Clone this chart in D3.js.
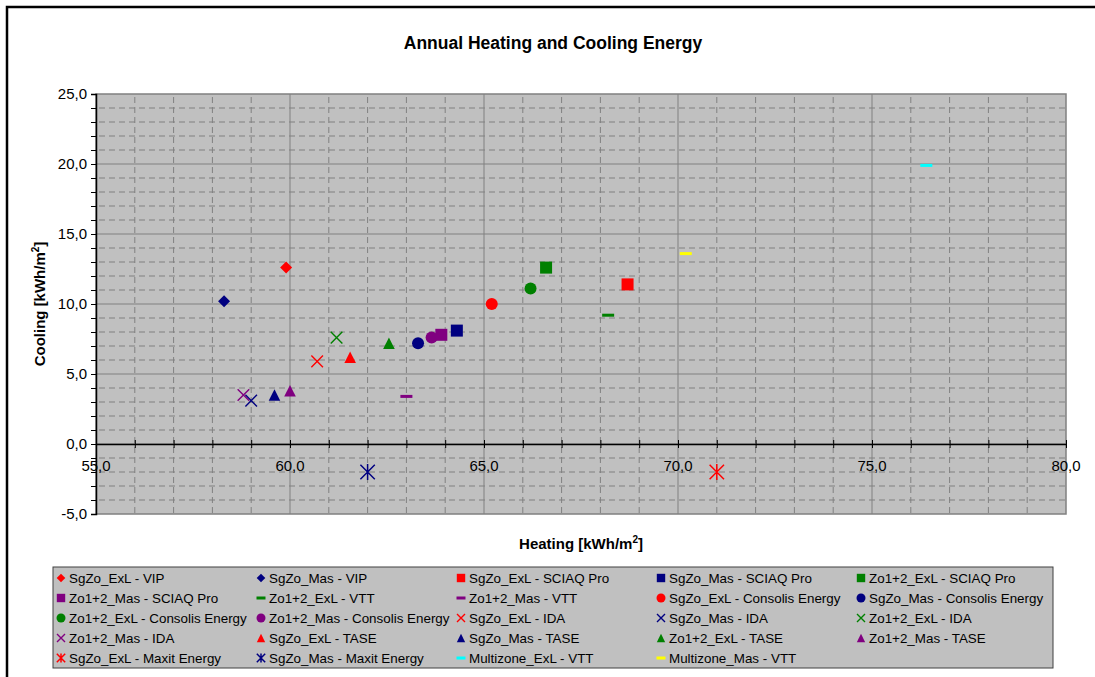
<!DOCTYPE html>
<html>
<head>
<meta charset="utf-8">
<script src="https://cdn.jsdelivr.net/npm/d3@7"></script>
<style>
  body { margin: 0; background: #fff; }
  svg { display: block; font-family: "Liberation Sans", Arial, sans-serif; }
</style>
</head>
<body>
<div id="chart"></div>
<script>
// series, in legend order
const seriesNames = [
  "SgZo_ExL - VIP", "SgZo_Mas - VIP", "SgZo_ExL - SCIAQ Pro", "SgZo_Mas - SCIAQ Pro", "Zo1+2_ExL - SCIAQ Pro",
  "Zo1+2_Mas - SCIAQ Pro", "Zo1+2_ExL - VTT", "Zo1+2_Mas - VTT", "SgZo_ExL - Consolis Energy", "SgZo_Mas - Consolis Energy",
  "Zo1+2_ExL - Consolis Energy", "Zo1+2_Mas - Consolis Energy", "SgZo_ExL - IDA", "SgZo_Mas - IDA", "Zo1+2_ExL - IDA",
  "Zo1+2_Mas - IDA", "SgZo_ExL - TASE", "SgZo_Mas - TASE", "Zo1+2_ExL - TASE", "Zo1+2_Mas - TASE",
  "SgZo_ExL - Maxit Energy", "SgZo_Mas - Maxit Energy", "Multizone_ExL - VTT", "Multizone_Mas - VTT"
];
const heating = [59.9, 58.3, 68.7, 64.3, 66.6, 63.9, 68.2, 63.0, 65.2, 63.3, 66.2, 63.65, 60.7, 59.0, 61.2, 58.8, 61.55, 59.6, 62.55, 60.0, 71.0, 62.0, 76.4, 70.2];
const cooling = [12.6, 10.2, 11.4, 8.1, 12.6, 7.8, 9.2, 3.4, 10.0, 7.2, 11.1, 7.6, 5.9, 3.1, 7.6, 3.5, 6.2, 3.5, 7.2, 3.8, -2.0, -2.0, 19.9, 13.6];

// marker style per series
const colors = ["#ff0000", "#000080", "#ff0000", "#000080", "#008000", "#800080", "#008000", "#800080", "#ff0000", "#000080",
  "#008000", "#800080", "#ff0000", "#000080", "#008000", "#800080", "#ff0000", "#000080", "#008000", "#800080",
  "#ff0000", "#000080", "#00ffff", "#ffff00"];
const shapes = ["diamond", "diamond", "square", "square", "square", "square", "dash", "dash", "circle", "circle",
  "circle", "circle", "x", "x", "x", "x", "triangle", "triangle", "triangle", "triangle",
  "star", "star", "dash", "dash"];

const xTicks = [55, 60, 65, 70, 75, 80];
const yTicks = [-5, 0, 5, 10, 15, 20, 25];

const width = 1095, height = 677;
const plot = { left: 96, top: 94, right: 1066, bottom: 514 };

const svg = d3.select("#chart").append("svg")
  .attr("width", width)
  .attr("height", height);

// outer chart frame
svg.append("rect")
  .attr("x", 7).attr("y", 7)
  .attr("width", 1100).attr("height", 700)
  .attr("fill", "#fff")
  .attr("stroke", "#000")
  .attr("stroke-width", 2.5);

const x = d3.scaleLinear().domain([55, 80]).range([plot.left, plot.right]);
const y = d3.scaleLinear().domain([-5, 25]).range([plot.bottom, plot.top]);

// "25,0" style labels with a plain hyphen for negatives
const fmt = v => v.toFixed(1).replace(".", ",");

// plot background
svg.append("rect")
  .attr("x", plot.left).attr("y", plot.top)
  .attr("width", plot.right - plot.left).attr("height", plot.bottom - plot.top)
  .attr("fill", "#c0c0c0");

// minor grid (every 1 unit), dashed
const minorX = d3.range(56, 80).filter(v => v % 5 !== 0);
const minorY = d3.range(-4, 25).filter(v => v % 5 !== 0);
const grid = svg.append("g");
grid.selectAll(".mx").data(minorX).enter().append("line")
  .attr("x1", d => x(d)).attr("x2", d => x(d))
  .attr("y1", plot.top).attr("y2", plot.bottom)
  .attr("stroke", "#808080").attr("stroke-dasharray", "6,4").attr("stroke-dashoffset", -3);
grid.selectAll(".my").data(minorY).enter().append("line")
  .attr("x1", plot.left).attr("x2", plot.right)
  .attr("y1", d => y(d)).attr("y2", d => y(d))
  .attr("stroke", "#808080").attr("stroke-dasharray", "6,4").attr("stroke-dashoffset", -3);

// major grid, solid
grid.selectAll(".Mx").data(xTicks.slice(1, -1)).enter().append("line")
  .attr("x1", d => x(d)).attr("x2", d => x(d))
  .attr("y1", plot.top).attr("y2", plot.bottom)
  .attr("stroke", "#808080");
grid.selectAll(".My").data(yTicks.slice(1, -1)).enter().append("line")
  .attr("x1", plot.left).attr("x2", plot.right)
  .attr("y1", d => y(d)).attr("y2", d => y(d))
  .attr("stroke", "#808080");

// plot border
svg.append("rect")
  .attr("x", plot.left).attr("y", plot.top)
  .attr("width", plot.right - plot.left).attr("height", plot.bottom - plot.top)
  .attr("fill", "none").attr("stroke", "#808080").attr("stroke-width", 1.5);

// y axis
const yAxis = svg.append("g").attr("transform", `translate(${plot.left},0)`)
  .call(d3.axisLeft(y).tickValues(d3.range(-5, 26)).tickSize(5).tickFormat(""));
yAxis.select(".domain").attr("stroke", "#000").attr("stroke-width", 1.5);
yAxis.selectAll(".tick line").attr("stroke", "#000");
svg.append("g").selectAll("text").data(yTicks).enter().append("text")
  .attr("x", 87).attr("y", d => y(d)).attr("dy", "0.35em")
  .attr("text-anchor", "end")
  .attr("font-size", 15)
  .text(fmt);

// x axis at y = 0, ticks crossing the line
const xAxis = svg.append("g").attr("transform", `translate(0,${y(0)})`)
  .call(d3.axisBottom(x).tickValues(d3.range(55, 81)).tickSizeInner(4).tickSizeOuter(0).tickFormat(""));
xAxis.select(".domain").attr("stroke", "#000").attr("stroke-width", 1.5);
xAxis.selectAll(".tick line").attr("y1", -4).attr("stroke", "#000");
svg.append("g").selectAll("text").data(xTicks).enter().append("text")
  .attr("x", d => x(d)).attr("y", y(0) + 27)
  .attr("text-anchor", "middle")
  .attr("font-size", 15)
  .text(fmt);

// marker shapes
function drawMarker(g, shape, color, s) {
  if (shape === "diamond") {
    g.append("path").attr("d", `M0,${-s}L${s},0L0,${s}L${-s},0Z`).attr("fill", color);
  } else if (shape === "square") {
    g.append("rect").attr("x", -s).attr("y", -s).attr("width", 2 * s).attr("height", 2 * s).attr("fill", color);
  } else if (shape === "circle") {
    g.append("circle").attr("r", s).attr("fill", color);
  } else if (shape === "triangle") {
    g.append("path").attr("d", `M0,${-s}L${s},${s}L${-s},${s}Z`).attr("fill", color);
  } else if (shape === "dash") {
    g.append("rect").attr("x", -s).attr("y", -1.5).attr("width", 2 * s).attr("height", 3).attr("fill", color);
  } else if (shape === "x") {
    g.append("path").attr("d", `M${-s},${-s}L${s},${s}M${-s},${s}L${s},${-s}`)
      .attr("stroke", color).attr("stroke-width", 1.4).attr("fill", "none");
  } else if (shape === "star") {
    g.append("path").attr("d", `M${-s},${-s}L${s},${s}M${-s},${s}L${s},${-s}M0,${-s * 1.1}L0,${s * 1.1}`)
      .attr("stroke", color).attr("stroke-width", 1.5).attr("fill", "none");
  }
}

const markerSize = { diamond: 6, square: 6, circle: 6, triangle: 5.8, dash: 6, x: 5.8, star: 7.2 };

const points = svg.append("g");
seriesNames.forEach((name, i) => {
  const g = points.append("g").attr("transform", `translate(${x(heating[i])},${y(cooling[i])})`);
  drawMarker(g, shapes[i], colors[i], markerSize[shapes[i]]);
});

// title and axis labels
svg.append("text")
  .attr("x", 553).attr("y", 49)
  .attr("text-anchor", "middle")
  .attr("font-size", 17.5).attr("font-weight", "bold")
  .text("Annual Heating and Cooling Energy");

const xl = svg.append("text")
  .attr("x", (plot.left + plot.right) / 2).attr("y", 549)
  .attr("text-anchor", "middle")
  .attr("font-size", 15).attr("font-weight", "bold");
xl.append("tspan").text("Heating [kWh/m");
xl.append("tspan").attr("font-size", 10).attr("dy", -6).text("2");
xl.append("tspan").attr("dy", 6).text("]");

const yl = svg.append("text")
  .attr("transform", `translate(45,${(plot.top + plot.bottom) / 2}) rotate(-90)`)
  .attr("text-anchor", "middle")
  .attr("font-size", 15).attr("font-weight", "bold");
yl.append("tspan").text("Cooling [kWh/m");
yl.append("tspan").attr("font-size", 10).attr("dy", -6).text("2");
yl.append("tspan").attr("dy", 6).text("]");

// legend
const legend = svg.append("g");
legend.append("rect")
  .attr("x", 53).attr("y", 567)
  .attr("width", 1000).attr("height", 101)
  .attr("fill", "#c0c0c0").attr("stroke", "#404040");

const legendSize = { diamond: 4.3, square: 4.2, circle: 4.5, triangle: 4.2, dash: 4.5, x: 4, star: 4.2 };
seriesNames.forEach((name, i) => {
  const col = i % 5, row = Math.floor(i / 5);
  const g = legend.append("g").attr("transform", `translate(${61 + col * 200},${578 + row * 20})`);
  drawMarker(g, shapes[i], colors[i], legendSize[shapes[i]]);
  g.append("text")
    .attr("x", 8).attr("dy", "0.36em")
    .attr("font-size", 13.4)
    .text(name);
});
</script>
</body>
</html>
